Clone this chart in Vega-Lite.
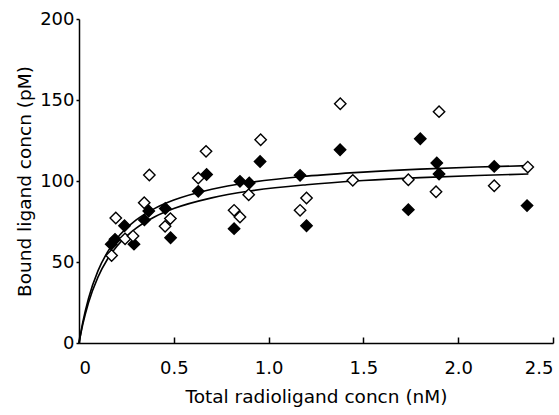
{
  "$schema": "https://vega.github.io/schema/vega-lite/v6.json",
  "width": 474,
  "height": 324,
  "autosize": {"type": "none"},
  "padding": {"left": 79, "top": 19, "right": 6, "bottom": 72},
  "background": "white",
  "config": {
    "view": {"stroke": null},
    "font": "DejaVu Sans",
    "axis": {
      "grid": false,
      "domainColor": "black",
      "domainWidth": 1.5,
      "tickColor": "black",
      "tickWidth": 1.5,
      "labelColor": "black",
      "titleColor": "black",
      "labelFont": "DejaVu Sans",
      "titleFont": "DejaVu Sans",
      "labelFontSize": 18,
      "titleFontSize": 18.5,
      "titleFontWeight": "normal"
    }
  },
  "datasets": {
    "pts": [
      {"x": 0.17, "y": 61, "type": "filled"},
      {"x": 0.19, "y": 64, "type": "filled"},
      {"x": 0.24, "y": 72.4, "type": "filled"},
      {"x": 0.29, "y": 61, "type": "filled"},
      {"x": 0.345, "y": 76, "type": "filled"},
      {"x": 0.368, "y": 81.5, "type": "filled"},
      {"x": 0.455, "y": 83, "type": "filled"},
      {"x": 0.483, "y": 65, "type": "filled"},
      {"x": 0.629, "y": 93.6, "type": "filled"},
      {"x": 0.673, "y": 104, "type": "filled"},
      {"x": 0.818, "y": 70.6, "type": "filled"},
      {"x": 0.849, "y": 99.8, "type": "filled"},
      {"x": 0.898, "y": 98.8, "type": "filled"},
      {"x": 0.955, "y": 112, "type": "filled"},
      {"x": 1.166, "y": 103.5, "type": "filled"},
      {"x": 1.2, "y": 72.4, "type": "filled"},
      {"x": 1.377, "y": 119.3, "type": "filled"},
      {"x": 1.737, "y": 82.3, "type": "filled"},
      {"x": 1.8, "y": 126.1, "type": "filled"},
      {"x": 1.887, "y": 111.1, "type": "filled"},
      {"x": 1.899, "y": 104.3, "type": "filled"},
      {"x": 2.19, "y": 109, "type": "filled"},
      {"x": 2.363, "y": 84.8, "type": "filled"},
      {"x": 0.172, "y": 54, "type": "open"},
      {"x": 0.194, "y": 77.2, "type": "open"},
      {"x": 0.243, "y": 64.3, "type": "open"},
      {"x": 0.285, "y": 66, "type": "open"},
      {"x": 0.344, "y": 86.6, "type": "open"},
      {"x": 0.371, "y": 103.7, "type": "open"},
      {"x": 0.454, "y": 72, "type": "open"},
      {"x": 0.482, "y": 76.8, "type": "open"},
      {"x": 0.629, "y": 101.8, "type": "open"},
      {"x": 0.67, "y": 118.3, "type": "open"},
      {"x": 0.818, "y": 81.9, "type": "open"},
      {"x": 0.849, "y": 77.8, "type": "open"},
      {"x": 0.895, "y": 91.5, "type": "open"},
      {"x": 0.958, "y": 125.5, "type": "open"},
      {"x": 1.166, "y": 81.9, "type": "open"},
      {"x": 1.2, "y": 89.5, "type": "open"},
      {"x": 1.378, "y": 147.7, "type": "open"},
      {"x": 1.444, "y": 100.4, "type": "open"},
      {"x": 1.737, "y": 100.8, "type": "open"},
      {"x": 1.883, "y": 93.4, "type": "open"},
      {"x": 1.899, "y": 142.8, "type": "open"},
      {"x": 2.19, "y": 97.1, "type": "open"},
      {"x": 2.367, "y": 108.6, "type": "open"}
    ],
    "curves": [
      {"x": 0, "y": 0, "c": "upper"},
      {"x": 0.02, "y": 12.8, "c": "upper"},
      {"x": 0.05, "y": 27.5, "c": "upper"},
      {"x": 0.1, "y": 44.5, "c": "upper"},
      {"x": 0.15, "y": 56.1, "c": "upper"},
      {"x": 0.2, "y": 64.5, "c": "upper"},
      {"x": 0.3, "y": 75.8, "c": "upper"},
      {"x": 0.4, "y": 83.1, "c": "upper"},
      {"x": 0.5, "y": 88.2, "c": "upper"},
      {"x": 0.7, "y": 94.9, "c": "upper"},
      {"x": 0.9, "y": 99.1, "c": "upper"},
      {"x": 1.2, "y": 103.0, "c": "upper"},
      {"x": 1.5, "y": 105.5, "c": "upper"},
      {"x": 1.8, "y": 107.3, "c": "upper"},
      {"x": 2.1, "y": 108.6, "c": "upper"},
      {"x": 2.37, "y": 109.5, "c": "upper"},
      {"x": 0, "y": 0, "c": "lower"},
      {"x": 0.02, "y": 11.5, "c": "lower"},
      {"x": 0.05, "y": 24.9, "c": "lower"},
      {"x": 0.1, "y": 40.7, "c": "lower"},
      {"x": 0.15, "y": 51.7, "c": "lower"},
      {"x": 0.2, "y": 59.7, "c": "lower"},
      {"x": 0.3, "y": 70.7, "c": "lower"},
      {"x": 0.4, "y": 77.9, "c": "lower"},
      {"x": 0.5, "y": 83.0, "c": "lower"},
      {"x": 0.7, "y": 89.6, "c": "lower"},
      {"x": 0.9, "y": 93.8, "c": "lower"},
      {"x": 1.2, "y": 97.7, "c": "lower"},
      {"x": 1.5, "y": 100.3, "c": "lower"},
      {"x": 1.8, "y": 102.1, "c": "lower"},
      {"x": 2.1, "y": 103.4, "c": "lower"},
      {"x": 2.37, "y": 104.3, "c": "lower"}
    ]
  },
  "layer": [
    {
      "data": {"name": "curves"},
      "mark": {"type": "line", "color": "black", "strokeWidth": 1.6, "interpolate": "monotone"},
      "encoding": {
        "x": {
          "field": "x", "type": "quantitative",
          "scale": {"domain": [0, 2.5], "nice": false},
          "axis": {
            "title": "Total radioligand concn (nM)",
            "values": [0, 0.5, 1, 1.5, 2, 2.5],
            "format": ".1f",
            "labelExpr": "datum.value == 0 ? '0' : datum.label",
            "tickSize": -6,
            "labelPadding": 22,
            "labelFlush": true,
            "titlePadding": 10
          }
        },
        "y": {
          "field": "y", "type": "quantitative",
          "scale": {"domain": [0, 200], "nice": false},
          "axis": {
            "title": "Bound ligand concn (pM)",
            "values": [0, 50, 100, 150, 200],
            "tickSize": 3,
            "labelPadding": 2,
            "titlePadding": 5
          }
        },
        "detail": {"field": "c"}
      }
    },
    {
      "data": {"name": "pts"},
      "mark": {"type": "point", "shape": "diamond", "filled": true, "size": 130, "stroke": "black", "strokeWidth": 1.4, "opacity": 1},
      "encoding": {
        "x": {"field": "x", "type": "quantitative"},
        "y": {"field": "y", "type": "quantitative"},
        "fill": {
          "field": "type", "type": "nominal",
          "scale": {"domain": ["filled", "open"], "range": ["black", "white"]},
          "legend": null
        }
      }
    }
  ]
}
